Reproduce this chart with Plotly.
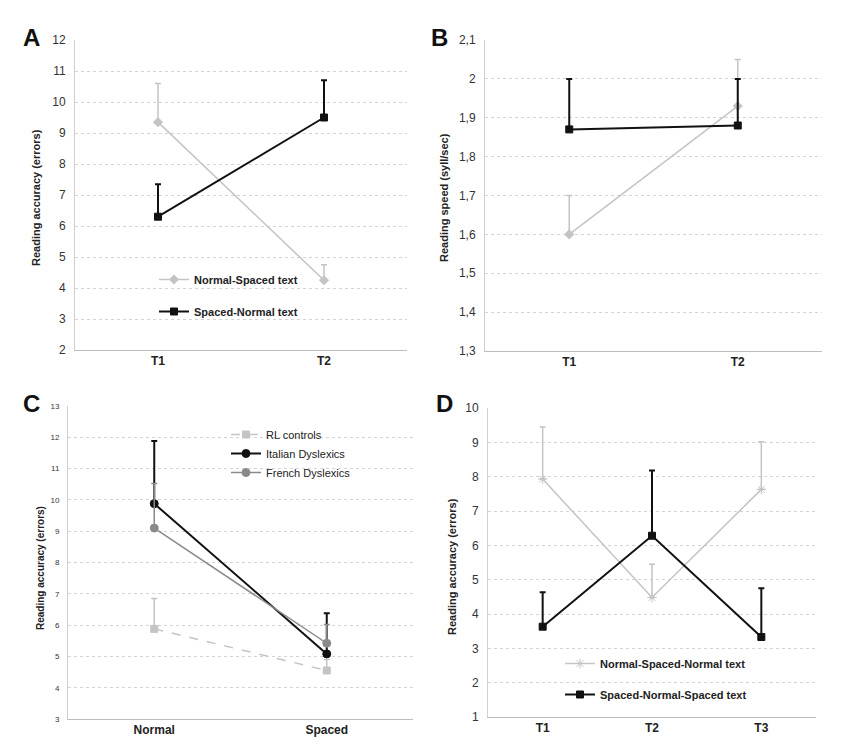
import plotly.graph_objects as go

# page body has an 8px margin; figure sized to fit the 866x749 window
OFF = 8
W, H = 866 - 2 * OFF, 749 - 2 * OFF

# ---------------- data ----------------
cat_ab = ["T1", "T2"]
a_ns_mean = [9.35, 4.25]
a_ns_err = [1.25, 0.50]
a_sn_mean = [6.30, 9.50]
a_sn_err = [1.05, 1.20]

b_ns_mean = [1.60, 1.93]
b_ns_err = [0.10, 0.12]
b_sn_mean = [1.87, 1.88]
b_sn_err = [0.13, 0.12]
b_tickvals = [1.3, 1.4, 1.5, 1.6, 1.7, 1.8, 1.9, 2.0, 2.1]
b_ticktext = ["1,3", "1,4", "1,5", "1,6", "1,7", "1,8", "1,9", "2", "2,1"]

cat_c = ["Normal", "Spaced"]
c_rl_mean = [5.88, 4.55]
c_rl_err = [0.97, 0.35]
c_it_mean = [9.88, 5.08]
c_it_err = [2.00, 1.30]
c_fr_mean = [9.10, 5.42]
c_fr_err = [1.42, 0.60]

cat_d = ["T1", "T2", "T3"]
d_nsn_mean = [7.93, 4.48, 7.63]
d_nsn_err = [1.52, 0.97, 1.39]
d_sns_mean = [3.63, 6.28, 3.33]
d_sns_err = [1.00, 1.90, 1.42]

# ---------------- styling ----------------
BLACK = "#111111"
LIGHT = "#c4c4c4"
MID = "#8a8a8a"
FONT = "Liberation Sans, Arial, sans-serif"


def px2x(p):
    return (p - OFF) / W


def px2y(p):
    return 1 - (p - OFF) / H


fig = go.Figure()


def add(xs, ys, err, name, color, symbol, lw, msize, xa, ya, legend, showlegend=True,
        dash="solid", group=None, ecolor=None, ewidth=1.2):
    fig.add_trace(go.Scatter(
        x=xs, y=ys, name=name, mode="lines+markers",
        line=dict(color=color, width=lw, dash=dash),
        marker=dict(symbol=symbol, size=msize, color=color,
                    line=dict(color=color, width=1)),
        error_y=dict(type="data", array=err, arrayminus=[0] * len(err),
                     symmetric=False, color=ecolor or color, thickness=ewidth, width=3),
        xaxis=xa, yaxis=ya, legend=legend, showlegend=showlegend,
        legendgroup=group or name,
    ))


# Panel A
add(cat_ab, a_ns_mean, a_ns_err, "Normal-Spaced text", LIGHT, "diamond", 1.5, 7, "x", "y", "legend",
    ewidth=1.5)
add(cat_ab, a_sn_mean, a_sn_err, "Spaced-Normal text", BLACK, "square", 2, 7, "x", "y", "legend",
    ewidth=2)
# Panel B
add(cat_ab, b_ns_mean, b_ns_err, "Normal-Spaced text B", LIGHT, "diamond", 1.5, 7, "x2", "y2", "legend2",
    showlegend=False, ewidth=1.5)
add(cat_ab, b_sn_mean, b_sn_err, "Spaced-Normal text B", BLACK, "square", 2, 7, "x2", "y2", "legend2",
    showlegend=False, ewidth=2)
# Panel C
add(cat_c, c_rl_mean, c_rl_err, "RL controls", LIGHT, "square", 1.5, 7, "x3", "y3", "legend3",
    dash="dash", ewidth=1.5)
add(cat_c, c_it_mean, c_it_err, "Italian Dyslexics", BLACK, "circle", 2, 8, "x3", "y3", "legend3",
    ewidth=2)
add(cat_c, c_fr_mean, c_fr_err, "French Dyslexics", MID, "circle", 1.5, 8, "x3", "y3", "legend3",
    ewidth=1.5)
# Panel D
add(cat_d, d_nsn_mean, d_nsn_err, "Normal-Spaced-Normal text", LIGHT, "asterisk-open", 1.5, 8, "x4", "y4",
    "legend4", ewidth=1.5)
add(cat_d, d_sns_mean, d_sns_err, "Spaced-Normal-Spaced text", BLACK, "square", 2, 7, "x4", "y4",
    "legend4", ewidth=2)

# ---------------- axes ----------------
def xaxis(dom, n, anchor):
    return dict(domain=dom, anchor=anchor, type="category", range=[-0.5, n - 0.5],
                showgrid=False, showline=True, linecolor="#bdbdbd", linewidth=1,
                ticks="", tickfont=dict(family=FONT, size=12, color="#222", weight="bold"),
                automargin=False, fixedrange=True)


def yaxis(dom, rng, dtick, anchor, size=12, tickvals=None, ticktext=None):
    d = dict(domain=dom, anchor=anchor, range=rng, dtick=dtick,
             showgrid=True, gridcolor="#d4d4d4", griddash="dot", gridwidth=1,
             showline=True, linecolor="#d0d0d0", linewidth=1, zeroline=False,
             ticks="", ticklabelstandoff=6,
             tickfont=dict(family=FONT, size=size, color="#333"),
             automargin=False, fixedrange=True)
    if tickvals is not None:
        d.update(tickmode="array", tickvals=tickvals, ticktext=ticktext)
    return d


dom_ax = [px2x(75), px2x(407)]
dom_ay = [px2y(350), px2y(40)]
dom_bx = [px2x(485), px2x(822)]
dom_by = [px2y(351), px2y(40)]
dom_cx = [px2x(68), px2x(413)]
dom_cy = [px2y(719), px2y(406)]
dom_dx = [px2x(488), px2x(816)]
dom_dy = [px2y(717), px2y(408)]

fig.update_layout(
    width=W, height=H,
    margin=dict(l=0, r=0, t=0, b=0),
    paper_bgcolor="white", plot_bgcolor="white",
    font=dict(family=FONT, color="#222"),
    xaxis=xaxis(dom_ax, 2, "y"),
    yaxis=yaxis(dom_ay, [2, 12], 1, "x"),
    xaxis2=xaxis(dom_bx, 2, "y2"),
    yaxis2=yaxis(dom_by, [1.3, 2.1], 0.1, "x2", tickvals=b_tickvals, ticktext=b_ticktext),
    xaxis3=xaxis(dom_cx, 2, "y3"),
    yaxis3=yaxis(dom_cy, [3, 13], 1, "x3", size=8),
    xaxis4=xaxis(dom_dx, 3, "y4"),
    yaxis4=yaxis(dom_dy, [1, 10], 1, "x4"),
    legend=dict(x=px2x(154), y=px2y(265), xanchor="left", yanchor="top",
                bgcolor="rgba(0,0,0,0)", traceorder="grouped", tracegroupgap=13,
                font=dict(family=FONT, size=11, color="#222", weight="bold")),
    legend2=dict(visible=False),
    legend3=dict(x=px2x(226), y=px2y(420), xanchor="left", yanchor="top",
                 bgcolor="rgba(0,0,0,0)", traceorder="normal", tracegroupgap=0,
                 font=dict(family=FONT, size=11, color="#222")),
    legend4=dict(x=px2x(560), y=px2y(649), xanchor="left", yanchor="top",
                 bgcolor="rgba(0,0,0,0)", traceorder="grouped", tracegroupgap=12,
                 font=dict(family=FONT, size=11, color="#222", weight="bold")),
    showlegend=True,
)

# ---------------- text ----------------
ann = []
for letter, x, y in [("A", 31, 38), ("B", 440, 38), ("C", 31, 403), ("D", 444, 403)]:
    ann.append(dict(text=letter, x=px2x(x), y=px2y(y), xref="paper", yref="paper",
                    xanchor="center", yanchor="middle",
                    showarrow=False, font=dict(family=FONT, size=24, color="#111", weight="bold")))
for t, x, y, s in [("Reading accuracy (errors)", 36, 198, 11),
                   ("Reading speed (syll/sec)", 444, 198, 11),
                   ("Reading accuracy (errors)", 40, 568, 10),
                   ("Reading accuracy (errors)", 452, 567, 11)]:
    ann.append(dict(text=t, x=px2x(x), y=px2y(y), xref="paper", yref="paper", textangle=-90,
                    xanchor="center", yanchor="middle",
                    showarrow=False, font=dict(family=FONT, size=s, color="#222", weight="bold")))
fig.update_layout(annotations=ann)

fig.write_html("out.html")
